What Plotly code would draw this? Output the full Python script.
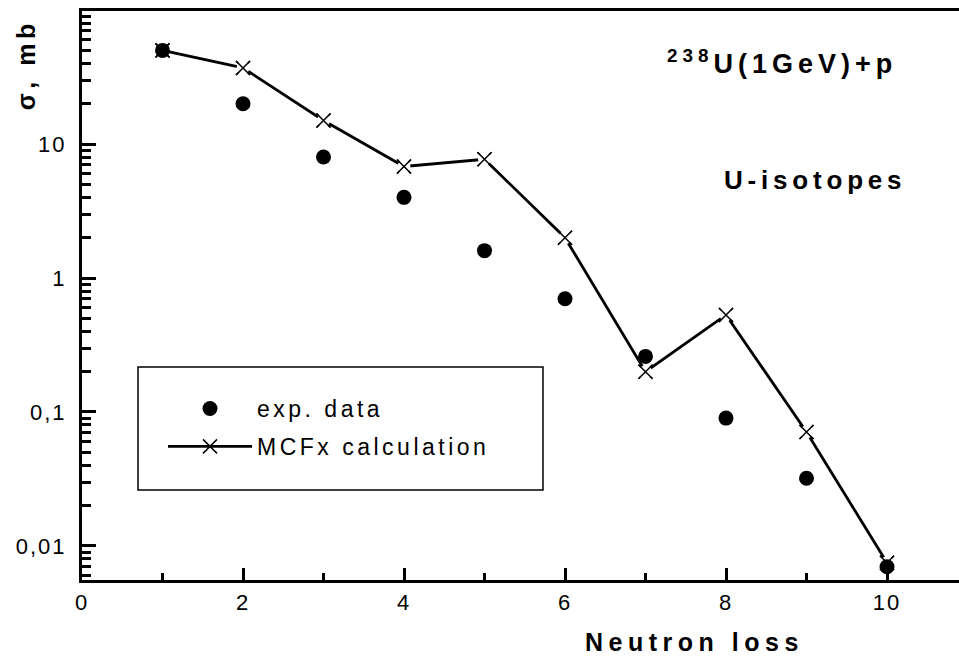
import plotly.graph_objects as go

# ---- data ----
neutron_loss = [1, 2, 3, 4, 5, 6, 7, 8, 9, 10]
exp_data = [50, 20, 8.0, 4.0, 1.6, 0.70, 0.26, 0.090, 0.032, 0.0070]
mcfx_calc = [50, 37, 15, 6.8, 7.7, 2.0, 0.20, 0.53, 0.071, 0.0075]

x_tick_vals = [0, 2, 4, 6, 8, 10]
x_minor_vals = [1, 3, 5, 7, 9]
y_tick_vals = [0.01, 0.1, 1, 10]
y_tick_text = ["0,01", "0,1", "1", "10"]
y_minor_vals = [m * d for d in (0.001, 0.01, 0.1, 1, 10) for m in range(2, 10)]

FONT = "Liberation Sans, Arial, sans-serif"

W, H = 959, 658
ML, MT, MB, MR = 82, 11, 78, 0
PW, PH = W - ML - MR, H - MT - MB


def px(xp):
    return (xp - ML) / PW


def py(yp):
    return (H - MB - yp) / PH


fig = go.Figure()

# calculation: line + x markers (legend entry)
fig.add_trace(go.Scatter(
    x=neutron_loss, y=mcfx_calc, mode="lines+markers", name="MCFx calculation",
    line=dict(color="black", width=2.8),
    marker=dict(symbol="x-thin", size=14, line=dict(color="black", width=1.5)),
    legendrank=2, legendgroup="b",
))
# small white halo to open the line around each marker (Origin style)
fig.add_trace(go.Scatter(
    x=neutron_loss, y=mcfx_calc, mode="markers", showlegend=False, hoverinfo="skip",
    marker=dict(symbol="circle", size=13, color="white", line=dict(width=0)),
))
fig.add_trace(go.Scatter(
    x=neutron_loss, y=mcfx_calc, mode="markers", showlegend=False, hoverinfo="skip",
    marker=dict(symbol="x-thin", size=14, line=dict(color="black", width=1.5)),
))
fig.add_trace(go.Scatter(
    x=neutron_loss, y=exp_data, mode="markers", name="exp. data",
    marker=dict(symbol="circle", size=15, color="black"),
    legendrank=1, legendgroup="a",
))

fig.update_layout(
    width=W, height=H,
    margin=dict(l=ML, r=MR, t=MT, b=MB, pad=0),
    paper_bgcolor="white", plot_bgcolor="white",
    font=dict(family=FONT, size=22, color="black"),
    showlegend=True,
    legend=dict(
        x=px(163), y=py(387), xanchor="left", yanchor="top",
        bgcolor="rgba(0,0,0,0)", borderwidth=0,
        font=dict(family=FONT, size=23, color="black"),
        tracegroupgap=5, itemwidth=84,
        entrywidth=330, entrywidthmode="pixels",
    ),
    xaxis=dict(
        range=[0, PW / 80.5], showgrid=False, zeroline=False,
        showline=True, linecolor="black", linewidth=3, mirror=True,
        ticks="inside", ticklen=12, tickwidth=2.5, tickcolor="black",
        tickmode="array", tickvals=x_tick_vals,
        ticklabelstandoff=1,
        minor=dict(ticks="inside", ticklen=7, tickwidth=2.5, tickcolor="black",
                   tickmode="array", tickvals=x_minor_vals, showgrid=False),
        tickfont=dict(family=FONT, size=22),
    ),
    yaxis=dict(
        type="log", range=[-2.254, 1.993], showgrid=False, zeroline=False,
        showline=True, linecolor="black", linewidth=3,
        ticks="inside", ticklen=14, tickwidth=2.5, tickcolor="black",
        tickmode="array", tickvals=y_tick_vals, ticktext=y_tick_text,
        ticklabelstandoff=8,
        minor=dict(ticks="inside", ticklen=9, tickwidth=2.5, tickcolor="black",
                   tickmode="array", tickvals=y_minor_vals, showgrid=False),
        tickfont=dict(family=FONT, size=22),
    ),
    shapes=[dict(type="rect", xref="paper", yref="paper",
                 x0=px(138), x1=px(543), y0=py(490), y1=py(367),
                 line=dict(color="black", width=1.5), fillcolor="rgba(0,0,0,0)")],
    annotations=[
        dict(text="<b><sup>238</sup>U(1GeV)+p</b>", xref="paper", yref="paper",
             x=px(782), y=py(62), xanchor="center", yanchor="middle",
             showarrow=False, font=dict(family=FONT, size=27)),
        dict(text="<b>U-isotopes</b>", xref="paper", yref="paper",
             x=px(815), y=py(180), xanchor="center", yanchor="middle",
             showarrow=False, font=dict(family=FONT, size=26)),
        dict(text="<b>σ, mb</b>", xref="paper", yref="paper",
             x=px(26), y=py(65), xanchor="center", yanchor="middle", textangle=-90,
             showarrow=False, font=dict(family=FONT, size=25)),
        dict(text="<b>Neutron loss</b>", xref="paper", yref="paper",
             x=px(694), y=py(642), xanchor="center", yanchor="middle",
             showarrow=False, font=dict(family=FONT, size=25)),
    ],
)

# widen the letter spacing like the original (Origin-style spaced glyphs)
post = """
var gd = document.getElementById('{plot_id}');
function applySpacing() {
  gd.querySelectorAll('.xtick text, .ytick text').forEach(function (t) {
    t.style.letterSpacing = '2px';
  });
  gd.querySelectorAll('.legendtext').forEach(function (t) {
    t.style.letterSpacing = '3.5px';
  });
  gd.querySelectorAll('.legend .scrollbox, .legend').forEach(function (g) {
    g.removeAttribute('clip-path');
  });
  var sp = ['5px', '4.8px', '4.5px', '5.5px'];
  gd.querySelectorAll('.annotation-text').forEach(function (t, i) {
    if (i < sp.length) { t.style.letterSpacing = sp[i]; }
  });
}
applySpacing();
if (gd.on) { gd.on('plotly_afterplot', applySpacing); }
"""

fig.write_html("out.html", post_script=post)
